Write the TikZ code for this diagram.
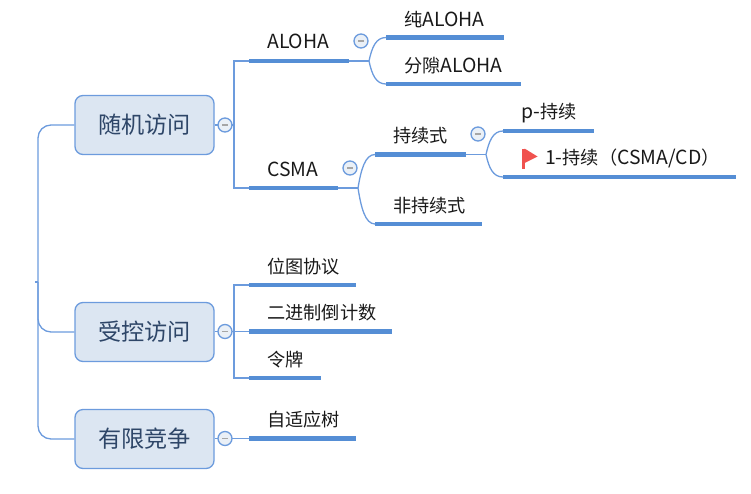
\documentclass[tikz,border=0pt]{standalone}
\usepackage{fontspec}
\setmainfont{Noto Sans CJK SC}
\definecolor{linkc}{HTML}{6C9BDD}
\definecolor{barc}{HTML}{558ED5}
\definecolor{boxf}{HTML}{DCE6F2}
\definecolor{boxt}{HTML}{2E4668}
\definecolor{flagc}{HTML}{F0524F}
\tikzset{
  mainbox/.style={draw=linkc,line width=1.3pt,fill=boxf,rounded corners=8pt,minimum width=139pt,minimum height=59pt,inner sep=0pt,text=boxt,font=\fontsize{23.2}{26}\selectfont},
  bar/.style={fill=barc,inner sep=0pt,minimum height=4.4pt,anchor=west},
  lbl/.style={anchor=west,inner sep=0pt,text=black!90,font=\fontsize{18.2}{21}\selectfont},
  toggle/.style={circle,draw=linkc,line width=1.3pt,fill=boxf!60!white,minimum size=14pt,inner sep=0pt},
  link/.style={draw=linkc,line width=1.3pt},
}
\newcommand{\lat}[1]{{\fontsize{19.4}{21}\selectfont #1}}
\newcommand{\minusmark}[1]{\draw[line width=1.3pt,draw=gray!70] ([xshift=-3pt]#1.center) -- ([xshift=3pt]#1.center);}
\begin{document}
\begin{tikzpicture}[x=1pt,y=-1pt]
\useasboundingbox (0,0) rectangle (751,493);
% main boxes
\node[mainbox] (rand) at (144.5,125) {随机访问};
\node[mainbox] (ctrl) at (144.5,332) {受控访问};
\node[mainbox] (lim) at (144.5,439) {有限竞争};
% trunk
\coordinate (root) at (38,282);
\coordinate (stub) at (35,282);
\draw[link] (stub) -- (root);
\draw[link,rounded corners=13pt] (rand.west) -| (root) |- (lim.west);
\draw[link,rounded corners=13pt] (root) |- (ctrl.west);
% bars
\node[bar,minimum width=100pt] (aloha) at (249,61) {};
\node[bar,minimum width=89pt] (csma) at (249,188) {};
\node[bar,minimum width=118pt] (pure) at (386,37.5) {};
\node[bar,minimum width=135pt] (slot) at (386,84) {};
\node[bar,minimum width=91pt] (pers) at (375,154.5) {};
\node[bar,minimum width=107pt] (nonp) at (375,224) {};
\node[bar,minimum width=91pt] (ppers) at (503,131) {};
\node[bar,minimum width=233pt] (onep) at (503,177) {};
\node[bar,minimum width=107pt] (bitmap) at (249,285) {};
\node[bar,minimum width=143pt] (binary) at (249,331.5) {};
\node[bar,minimum width=72pt] (token) at (249,378) {};
\node[bar,minimum width=107pt] (tree) at (249,438.5) {};
% labels
\node[lbl] (t1) at (267,41.5) {\lat{ALOHA}};
\node[lbl] (t2) at (267,169.5) {\lat{CSMA}};
\node[lbl] (t3) at (404,19.5) {纯\lat{ALOHA}};
\node[lbl] (t4) at (404,65.5) {分隙\lat{ALOHA}};
\node[lbl] (t5) at (393,135.5) {持续式};
\node[lbl] (t6) at (393,205.5) {非持续式};
\node[lbl] (t7) at (521,113.5) {\lat{p-}持续};
\node[lbl] (t8) at (545,158.5) {\lat{1-}持续（\lat{CSMA/CD}）};
\node[lbl] (t9) at (267,266.5) {位图协议};
\node[lbl] (t10) at (267,312.5) {二进制倒计数};
\node[lbl] (t11) at (267,359.5) {令牌};
\node[lbl] (t12) at (267,419.5) {自适应树};
% forks: orthogonal
\coordinate (sp1) at (234,125);
\coordinate (sp2) at (234,331.5);
\draw[link] (rand.east) -- (sp1);
\draw[link] (aloha.west) -| (sp1) |- (csma.west);
\draw[link] (ctrl.east |- sp2) -- (sp2);
\draw[link] (bitmap.west) -| (sp2) |- (token.west);
\draw[link] (sp2) -- (binary.west);
\draw[link] (lim.east |- tree) -- (tree.west);
% forks: curved
\coordinate (f1) at (369,61);
\coordinate (f2) at (358,188);
\coordinate (f3) at (486,154.5);
\draw[link] (aloha.east) -- (f1);
\draw[link] (f1) .. controls (372,47) and (376,37.5) .. (pure.west);
\draw[link] (f1) .. controls (372,75) and (376,84) .. (slot.west);
\draw[link] (csma.east) -- (f2);
\draw[link] (f2) .. controls (361,170) and (365,154.5) .. (pers.west);
\draw[link] (f2) .. controls (361,207) and (365,224) .. (nonp.west);
\draw[link] (pers.east) -- (f3);
\draw[link] (f3) .. controls (489,141) and (493,131) .. (ppers.west);
\draw[link] (f3) .. controls (489,168) and (493,177) .. (onep.west);
% toggles
\node[toggle] (c1) at (225,125) {}; \minusmark{c1}
\node[toggle] (c2) at (361,41) {}; \minusmark{c2}
\node[toggle] (c3) at (350,168) {}; \minusmark{c3}
\node[toggle] (c4) at (478,134) {}; \minusmark{c4}
\node[toggle] (c5) at (225,331.5) {}; \minusmark{c5}
\node[toggle] (c6) at (225,438.5) {}; \minusmark{c6}
% flag
\fill[flagc] (522,148.5) rectangle (524.5,168.5);
\fill[flagc] (524.5,148.5) -- (537.5,156.5) -- (524.5,163) -- cycle;
\end{tikzpicture}
\end{document}
